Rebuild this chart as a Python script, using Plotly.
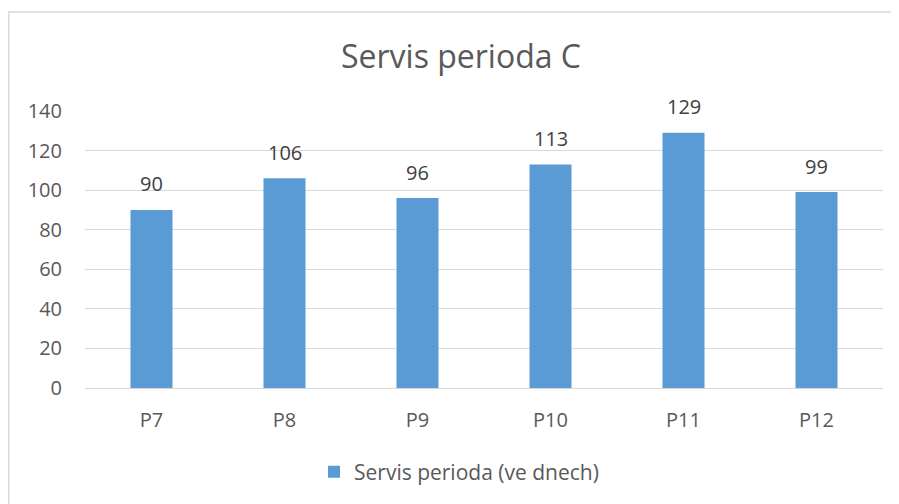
import plotly.graph_objects as go

categories = ["P7", "P8", "P9", "P10", "P11", "P12"]
values = [90, 106, 96, 113, 129, 99]
y_ticks = [0, 20, 40, 60, 80, 100, 120, 140]
series_name = "Servis perioda (ve dnech)"
title_text = "Servis perioda C"

# the page body has an 8px margin, so the figure is placed at (8, 8)
OFF = 8
W, H = 899 - OFF, 504 - OFF
L = 85 - OFF
T = 111 - OFF
R = W - (883 - OFF)
B = H - (388 - OFF)
plot_w = W - L - R
plot_h = H - T - B

txt = "#595959"
grid = "#d9d9d9"
font_family = "Open Sans, Noto Sans, sans-serif"

fig = go.Figure()
fig.add_trace(go.Bar(
    x=categories, y=values, name=series_name,
    marker=dict(color="#5b9bd5", line=dict(width=0)),
    showlegend=True,
))

annotations = []
for c, v in zip(categories, values):
    annotations.append(dict(
        x=c, y=v, xref="x", yref="y", text=str(v), showarrow=False,
        yshift=26, font=dict(size=20, color="#404040", family=font_family),
    ))

def px_x(p):
    return (p - OFF - L) / plot_w

def px_y(p):
    return (H - B - (p - OFF)) / plot_h

fig.update_layout(
    width=W, height=H,
    margin=dict(l=L, r=R, t=T, b=B, autoexpand=False),
    paper_bgcolor="white", plot_bgcolor="white",
    font=dict(family=font_family, color=txt),
    title=dict(text=title_text, x=px_x(461), y=1 - (57 - OFF) / H, xanchor="center", yanchor="middle",
               xref="paper", yref="container",
               font=dict(size=32, color=txt, family=font_family)),
    bargap=0.684,
    xaxis=dict(
        type="category", showgrid=False, showline=True, linecolor=grid, linewidth=1,
        ticks="", tickfont=dict(size=20, color=txt), ticklabelstandoff=14,
        zeroline=False,
    ),
    yaxis=dict(
        range=[0, 140], tickvals=y_ticks, showgrid=True, gridcolor=grid, gridwidth=1,
        zeroline=False, showline=False, ticks="",
        tickfont=dict(size=20, color=txt), ticklabelstandoff=22,
    ),
    legend=dict(
        orientation="h", x=px_x(459), y=px_y(472), xanchor="center", yanchor="middle",
        font=dict(size=21, color=txt), itemwidth=30, bgcolor="rgba(0,0,0,0)",
    ),
    annotations=annotations,
    shapes=[dict(
        type="rect", xref="paper", yref="paper",
        x0=px_x(8.75), x1=px_x(930), y0=px_y(540), y1=px_y(12),
        line=dict(color=grid, width=1.5), fillcolor="rgba(0,0,0,0)", layer="below",
    )],
)

fig.write_html("out.html")
